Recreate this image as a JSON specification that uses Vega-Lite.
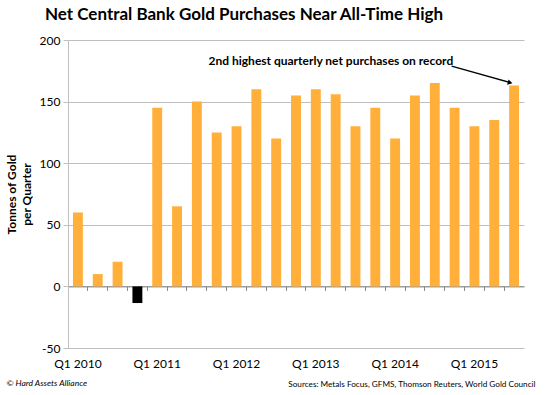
{
  "$schema": "https://vega.github.io/schema/vega-lite/v6.json",
  "width": 456,
  "height": 308,
  "autosize": "none",
  "padding": {"left": 68, "top": 40, "right": 22, "bottom": 47},
  "background": "white",
  "config": {"font": "Lato", "view": {"stroke": null}},
  "title": {
    "text": "Net Central Bank Gold Purchases Near All-Time High",
    "fontSize": 17,
    "fontWeight": "bold",
    "font": "Lato",
    "color": "#000000",
    "anchor": "start",
    "frame": "group",
    "dx": -23,
    "offset": 10
  },
  "data": {
    "values": [
      {"quarter": "Q1 2010", "tonnes": 60},
      {"quarter": "Q2 2010", "tonnes": 10},
      {"quarter": "Q3 2010", "tonnes": 20},
      {"quarter": "Q4 2010", "tonnes": -13.5},
      {"quarter": "Q1 2011", "tonnes": 145},
      {"quarter": "Q2 2011", "tonnes": 65},
      {"quarter": "Q3 2011", "tonnes": 150},
      {"quarter": "Q4 2011", "tonnes": 125},
      {"quarter": "Q1 2012", "tonnes": 130},
      {"quarter": "Q2 2012", "tonnes": 160},
      {"quarter": "Q3 2012", "tonnes": 120},
      {"quarter": "Q4 2012", "tonnes": 155},
      {"quarter": "Q1 2013", "tonnes": 160},
      {"quarter": "Q2 2013", "tonnes": 156},
      {"quarter": "Q3 2013", "tonnes": 130},
      {"quarter": "Q4 2013", "tonnes": 145},
      {"quarter": "Q1 2014", "tonnes": 120},
      {"quarter": "Q2 2014", "tonnes": 155},
      {"quarter": "Q3 2014", "tonnes": 165},
      {"quarter": "Q4 2014", "tonnes": 145},
      {"quarter": "Q1 2015", "tonnes": 130},
      {"quarter": "Q2 2015", "tonnes": 135},
      {"quarter": "Q3 2015", "tonnes": 163}
    ]
  },
  "resolve": {"scale": {"x": "independent"}, "axis": {"x": "independent"}},
  "layer": [
    {
      "layer": [
        {
          "mark": {"type": "bar"},
          "encoding": {
            "x": {
              "field": "quarter",
              "type": "nominal",
              "sort": null,
              "scale": {
                "domain": ["Q1 2010", "Q2 2010", "Q3 2010", "Q4 2010", "Q1 2011", "Q2 2011", "Q3 2011", "Q4 2011", "Q1 2012", "Q2 2012", "Q3 2012", "Q4 2012", "Q1 2013", "Q2 2013", "Q3 2013", "Q4 2013", "Q1 2014", "Q2 2014", "Q3 2014", "Q4 2014", "Q1 2015", "Q2 2015", "Q3 2015"],
                "paddingInner": 0.5,
                "paddingOuter": 0.25
              },
              "axis": {
                "orient": "bottom",
                "values": ["Q1 2010", "Q1 2011", "Q1 2012", "Q1 2013", "Q1 2014", "Q1 2015"],
                "domain": false,
                "ticks": false,
                "grid": false,
                "labelAngle": 0,
                "labelFontSize": 12,
                "labelColor": "#000000",
                "labelPadding": 10,
                "title": "Sources: Metals Focus, GFMS, Thomson Reuters, World Gold Council",
                "titleFontSize": 8.2,
                "titleFontWeight": "normal",
                "titleColor": "#000000",
                "titleAlign": "right",
                "titleBaseline": "alphabetic",
                "titleX": 467,
                "titleY": 38
              }
            },
            "y": {
              "field": "tonnes",
              "type": "quantitative",
              "scale": {"domain": [-50, 200], "nice": false, "zero": false, "padding": 0},
              "axis": {
                "values": [-50, 0, 50, 100, 150, 200],
                "labelExpr": "toString(datum.value)",
                "title": ["Tonnes of Gold", "per Quarter"],
                "titleFontSize": 12,
                "titleFontWeight": "bold",
                "titleColor": "#000000",
                "titleLineHeight": 15,
                "titlePadding": 6,
                "labelFontSize": 12,
                "labelColor": "#000000",
                "labelPadding": 3,
                "gridColor": "#BFBFBF",
                "domainColor": "#BFBFBF",
                "tickColor": "#BFBFBF",
                "tickSize": 5
              }
            },
            "color": {
              "condition": {"test": "datum.tonnes < 0", "value": "#000000"},
              "value": "#FFAF3A"
            }
          }
        },
        {
          "data": {"values": [{"q1": "Q4 2014", "v1": 178.8, "q2": "Q3 2015", "v2": 165.3}]},
          "mark": {"type": "rule", "color": "#000000", "strokeWidth": 1.3},
          "encoding": {
            "x": {"field": "q1", "type": "nominal", "bandPosition": 0.2},
            "x2": {"field": "q2", "bandPosition": 0.19},
            "y": {"field": "v1", "type": "quantitative"},
            "y2": {"field": "v2"}
          }
        },
        {
          "data": {"values": [{"q2": "Q3 2015", "v2": 165.3}]},
          "mark": {"type": "point", "shape": "triangle-right", "filled": true, "color": "#000000", "size": 30, "angle": 15, "opacity": 1},
          "encoding": {
            "x": {"field": "q2", "type": "nominal", "bandPosition": 0.1},
            "y": {"field": "v2", "type": "quantitative"}
          }
        },
        {
          "data": {"values": [{"q": "Q4 2014", "v": 182.6, "label": "2nd highest quarterly net purchases on record"}]},
          "mark": {"type": "text", "align": "right", "baseline": "middle", "fontSize": 12, "fontWeight": "bold", "color": "#000000"},
          "encoding": {
            "x": {"field": "q", "type": "nominal", "bandPosition": 0.36},
            "y": {"field": "v", "type": "quantitative"},
            "text": {"field": "label"}
          }
        }
      ]
    },
    {
      "mark": {"type": "bar", "opacity": 0},
      "encoding": {
        "x": {
          "field": "quarter",
          "type": "nominal",
          "sort": null,
          "scale": {"type": "band", "paddingInner": 0, "paddingOuter": 0},
          "axis": {
            "orient": "bottom",
            "offset": -61.6,
            "bandPosition": 0,
            "labels": false,
            "grid": false,
            "domain": true,
            "domainColor": "#868686",
            "ticks": true,
            "tickColor": "#868686",
            "tickSize": 4,
            "title": "© Hard Assets Alliance",
            "titleFontSize": 8.5,
            "titleFontStyle": "italic",
            "titleFontWeight": "normal",
            "titleColor": "#000000",
            "titleAlign": "left",
            "titleBaseline": "alphabetic",
            "titleX": -62,
            "titleY": 98.6
          }
        },
        "y": {"field": "tonnes", "type": "quantitative"}
      }
    }
  ]
}
